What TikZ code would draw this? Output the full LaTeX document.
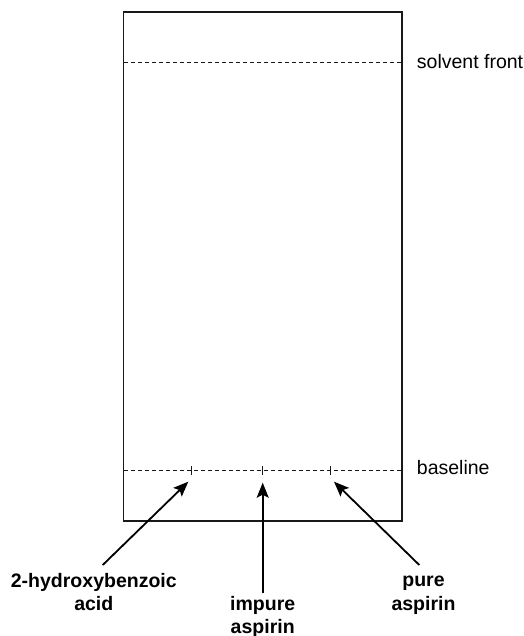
\documentclass[tikz,border=0pt]{standalone}
\usepackage{fontspec}
\setmainfont{Liberation Sans}
\usetikzlibrary{arrows.meta}
\begin{document}
\begin{tikzpicture}[x=1pt,y=-1pt,
  plate/.style={draw=black!90,line width=1.6pt},
  dline/.style={draw=black!90,line width=1.5pt,dash pattern=on 4pt off 3pt},
  tick/.style={draw=black!90,line width=1.5pt},
  pointer/.style={draw=black,line width=1.8pt,-{Stealth[length=15pt,width=12pt,inset=3pt]}},
  lbl/.style={font=\fontsize{19.5}{23.4}\selectfont,inner sep=0pt},
  blbl/.style={font=\fontsize{19.5}{23.4}\selectfont\bfseries,inner sep=0pt,anchor=base}]
\useasboundingbox (0,0) rectangle (523,636);
\draw[plate] (123.3,12.3) rectangle (402,520.7);
\draw[dline] (124,62.3) -- (401.5,62.3);
\draw[dline] (124,470.7) -- (401.5,470.7);
\coordinate (t1) at (191.7,470.7);
\coordinate (t2) at (262.7,470.7);
\coordinate (t3) at (330.7,470.7);
\foreach \t in {t1,t2,t3} \draw[tick] ([yshift=-4.5pt]\t) -- ([yshift=4.5pt]\t);
\node[lbl,anchor=base west] (sf) at (416.7,68.5) {solvent front};
\node[lbl,anchor=base west] (bl) at (416.7,474.5) {baseline};
\coordinate (h1) at (188.3,481.7);
\coordinate (h2) at (262.7,482.7);
\coordinate (h3) at (334,481.7);
\node[blbl] (a1) at (93.8,587.3) {2-hydroxybenzoic};
\node[blbl] (a1b) at (93.8,610.7) {acid};
\node[blbl] (a2) at (262.7,610.8) {impure};
\node[blbl] (a2b) at (262.7,633) {aspirin};
\node[blbl] (a3) at (423.5,586.8) {pure};
\node[blbl] (a3b) at (423.5,610.2) {aspirin};
\coordinate (s1) at (102.7,565);
\coordinate (s2) at (262.7,593);
\coordinate (s3) at (419.3,565);
\draw[pointer] (s1) -- (h1);
\draw[pointer] (s2) -- (h2);
\draw[pointer] (s3) -- (h3);
\end{tikzpicture}
\end{document}
